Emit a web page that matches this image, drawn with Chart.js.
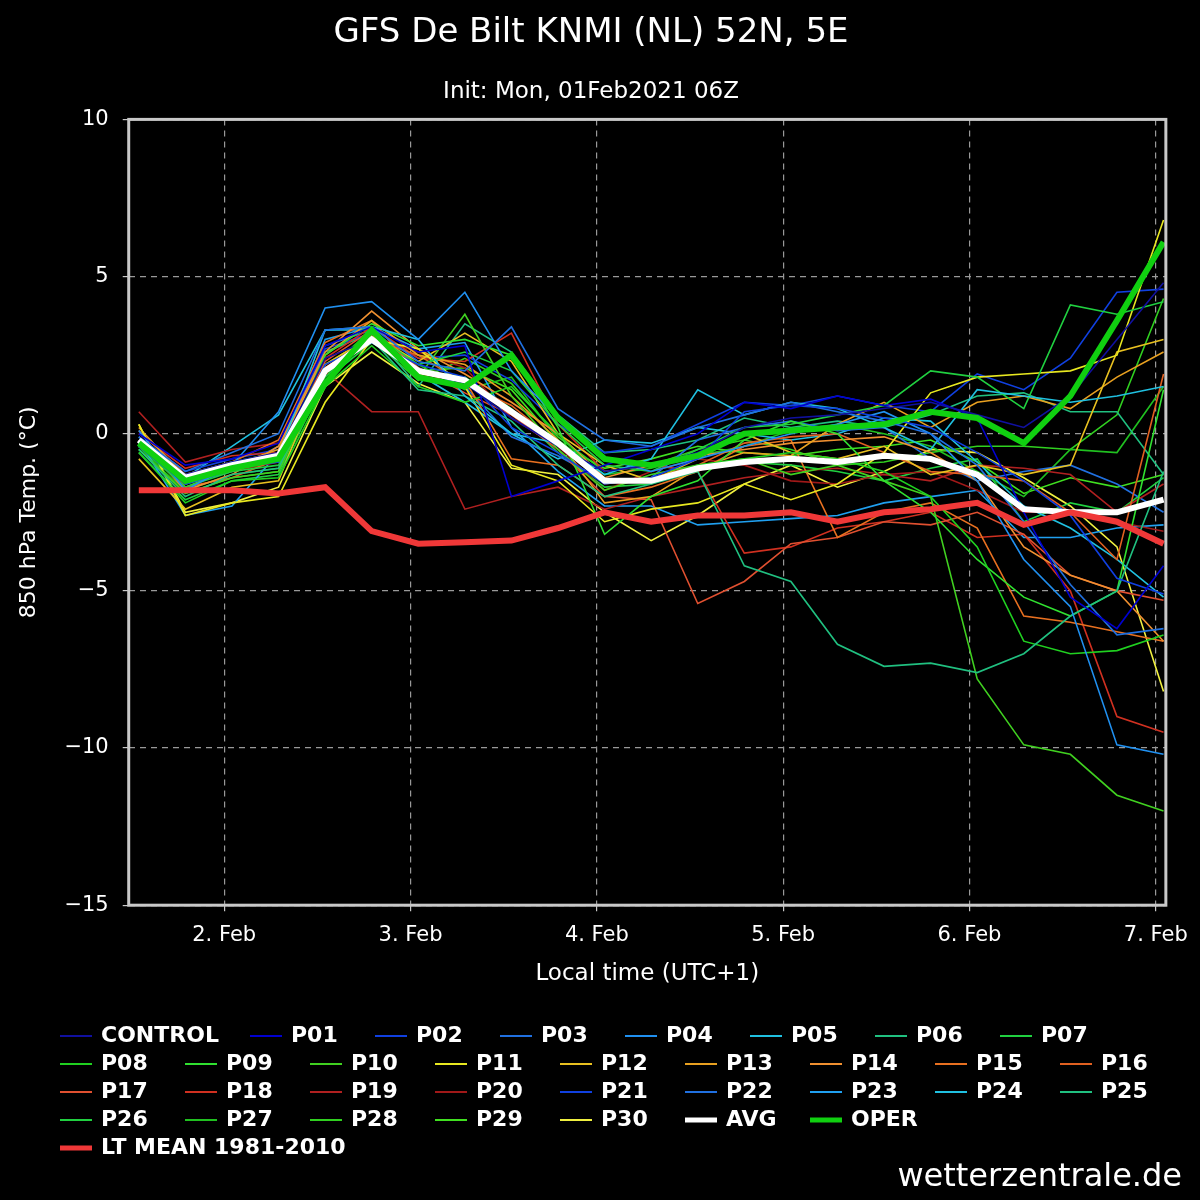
<!DOCTYPE html>
<html><head><meta charset="utf-8">
<script src="https://cdn.jsdelivr.net/npm/chart.js@4"></script>
<style>html,body{margin:0;background:#000}#w{width:1200px;height:1200px}</style>
</head><body><div id="w"><canvas id="c"></canvas></div>
<script>
const HOURS=[13,19,25,31,37,43,49,55,61,67,73,79,85,91,97,103,109,115,121,127,133,139,145];
const DAY_TICKS=[24,48,72,96,120,144];
const DAY_LABELS=["2. Feb","3. Feb","4. Feb","5. Feb","6. Feb","7. Feb"];
const Y_TICKS=[10,5,0,-5,-10,-15];
const NAMES=["CONTROL","P01","P02","P03","P04","P05","P06","P07","P08","P09","P10","P11","P12","P13","P14","P15","P16","P17","P18","P19","P20","P21","P22","P23","P24","P25","P26","P27","P28","P29","P30"];
const COLORS=["#1010a0","#0000d0","#1040e0","#2070e0","#2090f0","#20c0e0","#20c080","#20d040","#20d020","#30e030","#40d020","#e8e820","#e8c020","#e8a020","#f09030","#e87020","#e06020","#e05030","#d03020","#b02020","#a01818","#1040e0","#2070e0","#20a0f0","#20c0e0","#20c080","#20d040","#20c020","#30d020","#40e020","#f0f040"];
const M=[
[-0.2,-1.3,-0.9,-0.6,2.4,3.0,2.0,1.6,0.5,-0.4,-1.2,-1.0,-0.6,0.2,0.5,0.6,0.8,1.0,0.6,0.2,1.2,3.0,4.8],
[0.0,-1.0,-0.8,-0.3,2.8,3.4,2.6,2.8,-2.0,-1.5,-1.0,-0.5,0.0,1.0,0.8,1.2,0.9,1.1,0.5,-2.5,-5.2,-6.2,-4.2],
[-0.4,-1.6,-1.1,-0.9,2.2,2.9,2.2,1.8,0.2,-0.6,-1.6,-1.4,-0.8,0.7,0.9,0.8,0.5,0.2,-0.6,-1.5,-2.6,-4.6,-5.1],
[-0.1,-1.2,-0.6,0.0,3.3,3.4,2.3,2.0,3.4,0.8,-0.2,-0.4,0.2,0.6,1.0,0.7,0.4,0.0,-1.0,-2.8,-4.8,-6.4,-6.2],
[0.1,-1.8,-1.0,0.7,4.0,4.2,3.0,4.5,2.0,0.5,-0.8,-1.2,-0.8,-0.4,0.0,0.3,0.7,0.0,-1.5,-4.0,-5.5,-9.9,-10.2],
[-0.3,-1.5,-0.9,-0.7,3.3,3.4,3.0,1.2,0.0,-0.3,-1.3,-0.8,1.4,0.6,1.0,0.8,0.2,-0.5,1.4,1.2,1.0,1.2,1.5],
[-0.5,-2.0,-1.3,-1.1,2.0,3.0,1.4,1.2,0.4,-1.0,-2.0,-1.6,-1.2,-4.2,-4.7,-6.7,-7.4,-7.3,-7.6,-7.0,-5.8,-5.0,-1.2],
[-0.4,-1.7,-1.2,-1.0,1.8,3.2,2.2,2.6,2.0,0.3,-1.0,-1.2,-0.5,0.2,0.3,0.6,0.9,2.0,1.8,0.8,4.1,3.8,4.2],
[-0.6,-2.2,-1.5,-1.4,1.5,2.8,1.5,1.0,1.5,0.0,-1.5,-1.5,-1.0,-0.8,-0.6,-0.8,-1.2,-2.0,-3.6,-6.6,-7.0,-6.9,-6.4],
[-0.3,-1.6,-1.0,-0.9,2.5,3.5,2.8,3.0,2.5,0.2,-3.2,-2.0,-1.5,-0.2,0.4,0.0,-1.5,-2.5,-4.0,-5.2,-5.8,-5.0,1.4],
[-0.5,-1.9,-1.4,-1.2,1.9,3.1,1.8,3.8,1.2,-0.5,-1.8,-1.3,-1.0,-0.8,-1.3,-1.0,-1.5,-2.0,-7.8,-9.9,-10.2,-11.5,-12.0],
[0.3,-2.6,-2.2,-2.0,1.0,3.0,2.7,1.5,-1.0,-1.5,-2.8,-2.4,-2.2,-1.6,-2.1,-1.6,-0.6,1.3,1.8,1.9,2.0,2.5,6.8],
[-0.8,-2.4,-1.7,-1.5,2.2,3.1,2.3,3.2,2.3,0.0,-1.0,-1.5,-0.8,0.0,-0.6,-0.8,-0.4,-1.3,-1.0,-1.3,-1.0,2.6,3.0],
[0.2,-1.4,-1.0,-0.5,2.5,3.6,2.5,2.2,1.2,-0.2,-2.2,-2.0,-1.1,-0.6,-0.7,0.3,1.0,0.2,1.0,1.2,0.8,1.8,2.6],
[-0.2,-1.8,-1.3,-0.4,2.6,3.9,2.7,1.9,1.0,0.0,-1.4,-1.0,-0.7,-0.5,-0.3,-0.2,-0.1,-0.6,-1.5,-3.6,-4.5,-5.0,-6.6],
[0.1,-1.3,-0.9,-0.2,2.9,3.6,1.9,1.7,-0.8,-1.0,-2.0,-1.7,-1.2,-0.4,-0.2,-3.3,-2.5,-2.2,-3.0,-5.8,-6.0,-6.3,-6.6],
[-0.3,-1.7,-1.4,-0.8,2.1,3.0,2.5,1.6,0.9,-0.3,-1.6,-1.4,-1.0,-0.3,-0.1,0.0,-0.6,-1.2,-1.3,-1.5,-2.5,-4.0,1.9],
[-0.4,-1.5,-1.0,-0.7,2.3,3.3,2.1,1.3,0.6,-0.5,-2.0,-2.1,-5.4,-4.7,-3.5,-3.3,-2.8,-2.9,-2.5,-3.2,-4.5,-5.0,-5.3],
[0.0,-1.1,-0.7,-0.6,2.4,3.4,2.4,2.3,3.2,0.3,-1.2,-1.0,-1.2,-3.8,-3.6,-3.0,-2.8,-2.5,-3.3,-3.2,-5.0,-9.0,-9.5],
[0.7,-0.9,-0.5,-0.3,2.0,0.7,0.7,-2.4,-2.0,-1.7,-2.4,-2.0,-1.7,-1.4,-1.2,-1.1,-1.3,-1.5,-1.0,-1.1,-1.3,-2.5,-1.6],
[-0.2,-1.4,-1.2,-0.9,2.1,3.1,2.6,2.1,0.5,-0.4,-1.8,-1.2,-0.8,-1.0,-1.5,-1.6,-1.3,-1.2,-1.8,-2.5,-2.5,-2.8,-3.1],
[-0.1,-1.2,-0.8,-0.5,2.7,3.2,2.4,2.5,1.7,0.3,-0.6,-0.4,0.3,1.0,0.9,1.2,0.9,0.7,1.9,1.4,2.4,4.5,4.6],
[-0.3,-1.6,-1.2,-0.4,2.8,3.3,2.1,1.5,-0.1,-0.7,-1.5,-1.4,-0.2,0.2,0.4,0.1,0.2,-0.8,-1.5,-1.2,-1.0,-1.6,-2.5],
[-0.2,-2.6,-2.3,-0.6,3.0,3.4,2.7,2.9,0.2,-1.2,-2.3,-2.3,-2.9,-2.8,-2.7,-2.6,-2.2,-2.0,-1.8,-3.3,-3.3,-3.0,-2.9],
[-0.4,-1.4,-0.4,0.6,3.3,3.3,1.9,1.0,0.0,-0.8,-0.2,-0.3,0.2,0.0,-0.2,0.0,0.5,0.4,-0.9,-2.3,-3.0,-4.0,-5.2],
[-0.1,-1.3,-0.9,-0.6,2.6,3.2,1.5,3.5,2.6,0.6,-0.6,-0.5,-0.2,0.5,0.2,0.4,0.2,0.6,1.2,1.3,0.7,0.7,-1.3],
[-0.6,-2.1,-1.5,-1.3,1.7,2.9,2.0,1.8,0.8,-0.6,-1.7,-1.6,-1.1,-0.9,-1.0,-1.2,-1.5,-1.1,-0.8,-2.8,-2.2,-2.5,-1.4],
[-0.5,-1.8,-1.3,-1.1,2.0,3.3,2.2,1.4,1.8,-0.2,-1.3,-1.1,-0.7,-0.4,0.1,0.3,0.0,-0.4,-1.2,-2.0,-0.5,-0.6,1.5],
[-0.4,-1.9,-1.4,-1.2,1.9,3.0,1.7,2.4,1.6,-0.1,-1.2,-1.0,-0.5,-0.2,-0.5,-1.0,-0.9,-0.6,-0.4,-0.4,-0.5,0.6,4.3],
[-0.3,-1.7,-1.1,-0.8,2.2,3.1,2.0,2.1,1.4,-0.3,-1.1,-0.8,-0.4,-0.6,-0.7,-0.5,-0.4,-0.2,-0.9,-1.9,-1.4,-1.7,-1.3],
[0.3,-2.5,-2.2,-1.7,1.5,2.6,1.6,1.0,-1.1,-1.3,-2.5,-3.4,-2.6,-1.6,-1.0,-1.7,-1.2,-0.5,-0.6,-1.4,-2.3,-3.6,-8.2]];
const AVG=[-0.2,-1.4,-1.0,-0.7,2.0,3.0,2.0,1.7,0.7,-0.3,-1.5,-1.5,-1.1,-0.9,-0.8,-0.9,-0.7,-0.8,-1.3,-2.4,-2.5,-2.5,-2.1];
const OPER=[-0.3,-1.5,-1.1,-0.8,1.6,3.3,1.8,1.5,2.5,0.5,-0.8,-1.0,-0.7,0.0,0.1,0.2,0.3,0.7,0.5,-0.3,1.2,3.6,6.1];
const LTMEAN=[-1.8,-1.8,-1.8,-1.9,-1.7,-3.1,-3.5,-3.45,-3.4,-3.0,-2.5,-2.8,-2.6,-2.6,-2.5,-2.8,-2.5,-2.4,-2.2,-2.9,-2.5,-2.8,-3.5];

const pts=a=>a.map((v,i)=>({x:HOURS[i],y:v}));
const ds=NAMES.map((n,i)=>({label:n,data:pts(M[i]),borderColor:COLORS[i],borderWidth:1.6,pointRadius:0,order:10,tension:0}));
ds.push({label:"AVG",data:pts(AVG),borderColor:"#ffffff",borderWidth:6,pointRadius:0,order:2});
ds.push({label:"OPER",data:pts(OPER),borderColor:"#10d010",borderWidth:6,pointRadius:0,order:1});
ds.push({label:"LT MEAN 1981-2010",data:pts(LTMEAN),borderColor:"#f03838",borderWidth:6,pointRadius:0,order:0});

const legendPlugin={id:'lg',afterDraw(ch){
  const c=ch.ctx;c.save();
  c.font='bold 22px "DejaVu Sans"';c.textBaseline='middle';
  ds.forEach((d,i)=>{
    let x,row;
    if(i===0){x=60;row=0;}
    else if(i<8){x=250+(i-1)*125;row=0;}
    else if(i===ds.length-1){x=60;row=4;}
    else{const j=i-8;row=1+Math.floor(j/9);x=60+(j%9)*125;}
    const y=1036+row*28;
    c.strokeStyle=d.borderColor;c.lineWidth=d.borderWidth>2?5:2;
    c.beginPath();c.moveTo(x,y);c.lineTo(x+32,y);c.stroke();
    c.fillStyle='#fff';c.fillText(d.label,x+41,y);
  });
  c.font='32px "DejaVu Sans"';c.textAlign='right';c.fillText('wetterzentrale.de',1182,1178);
  const a=ch.chartArea;c.strokeStyle='#c8c8c8';c.lineWidth=3;c.strokeRect(a.left,a.top,a.right-a.left,a.bottom-a.top);
  c.restore();
}};

new Chart(document.getElementById('c'),{type:'line',data:{datasets:ds},
plugins:[legendPlugin],
options:{responsive:true,maintainAspectRatio:false,animation:false,
 layout:{padding:{left:12,right:30,top:13,bottom:208}},
 plugins:{legend:{display:false},tooltip:{enabled:false},
  title:{display:true,text:'GFS De Bilt KNMI (NL) 52N, 5E',color:'#fff',font:{family:'DejaVu Sans',size:34,weight:'normal'},padding:{top:0,bottom:24}},
  subtitle:{display:true,text:'Init: Mon, 01Feb2021 06Z',color:'#fff',font:{family:'DejaVu Sans',size:23},padding:{bottom:14}}},
 scales:{
  x:{type:'linear',min:11.7,max:145.3,afterBuildTicks:s=>{s.ticks=DAY_TICKS.map(v=>({value:v}));},
   ticks:{color:'#fff',font:{family:'DejaVu Sans',size:21},padding:12,callback:v=>DAY_LABELS[DAY_TICKS.indexOf(v)]},
   grid:{color:'#999',lineWidth:1.2,tickLength:6,tickColor:'#c8c8c8'},border:{display:false,dash:[6,5]},
   title:{display:true,text:'Local time (UTC+1)',color:'#fff',font:{family:'DejaVu Sans',size:23},padding:{top:0}}},
  y:{min:-15,max:10,afterBuildTicks:s=>{s.ticks=Y_TICKS.map(v=>({value:v}));},
   ticks:{color:'#fff',font:{family:'DejaVu Sans',size:21},padding:14,callback:v=>String(v).replace('-','\u2212')},
   grid:{color:'#999',lineWidth:1.2,tickLength:6,tickColor:'#c8c8c8'},border:{display:false,dash:[6,5]},
   title:{display:true,text:'850 hPa Temp. (°C)',color:'#fff',font:{family:'DejaVu Sans',size:22},padding:{bottom:8}}}
 }}});
</script></body></html>
